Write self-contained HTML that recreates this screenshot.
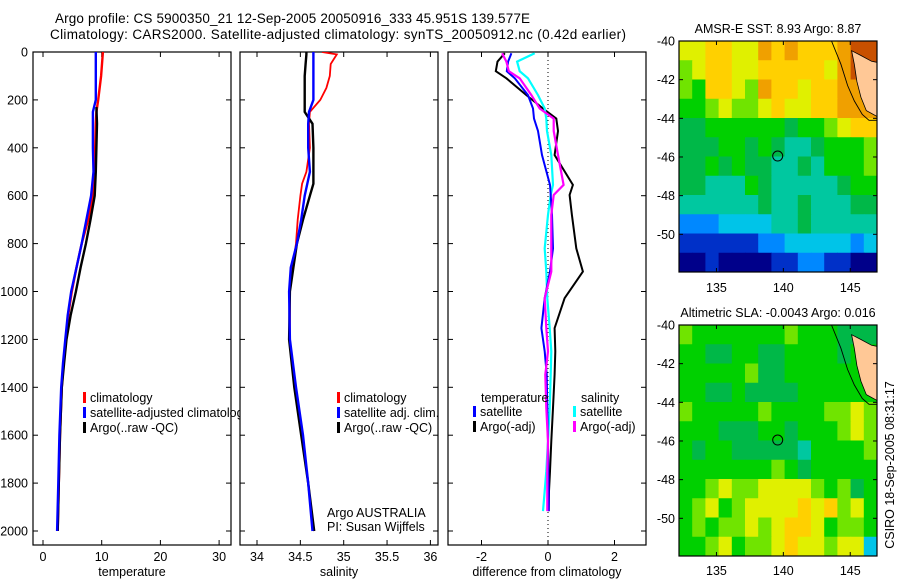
<!DOCTYPE html>
<html><head><meta charset="utf-8"><style>
html,body{margin:0;padding:0;background:#fff;}
svg{display:block;font-family:"Liberation Sans",sans-serif;}
</style></head><body>
<svg id="fig" width="900" height="580" viewBox="0 0 900 580" xmlns="http://www.w3.org/2000/svg">
<defs>
<clipPath id="clipA"><rect x="679" y="41" width="198" height="231"/></clipPath>
<clipPath id="clipB"><rect x="679" y="325" width="198" height="231"/></clipPath>
<clipPath id="clipP1"><rect x="33" y="52" width="198" height="493"/></clipPath>
<clipPath id="clipP2"><rect x="240" y="52" width="198" height="493"/></clipPath>
<clipPath id="clipP3"><rect x="448" y="52" width="198" height="493"/></clipPath>
</defs>
<text x="55" y="23" font-size="13.5" textLength="475">Argo profile: CS 5900350_21 12-Sep-2005 20050916_333 45.951S 139.577E</text>
<text x="50" y="39" font-size="13.5" textLength="576">Climatology: CARS2000. Satellite-adjusted climatology: synTS_20050912.nc (0.42d earlier)</text>
<g id="root"></g>
</svg>
<script>
// ---------- profile data ----------
const depthT = [0,100,200,250,300,400,500,600,700,800,900,1000,1100,1200,1300,1400,1600,1800,2000];
const tempClim = [10.2,9.9,9.4,9.1,9.0,8.9,8.9,8.5,7.7,6.6,5.7,4.9,4.3,3.9,3.5,3.2,2.9,2.7,2.5];
const tempSat  = [9.0,9.0,9.0,8.5,8.5,8.5,8.6,8.2,7.4,6.6,5.7,4.8,4.2,3.8,3.4,3.1,2.8,2.6,2.4];
const depthArgoT = [230,300,400,500,600,700,800,900,1000,1100,1200,1300,1400,1600,1800,2000];
const tempArgo = [9.1,9.2,9.1,9.0,8.8,8.1,7.3,6.4,5.6,4.7,4.0,3.6,3.2,2.9,2.7,2.5];

const depthS = [0,10,50,100,150,200,250,300,400,500,550,600,700,800,900,1000,1200,1400,1600,1800,2000];
const salClim = [34.75,34.92,34.85,34.84,34.80,34.73,34.61,34.60,34.61,34.57,34.52,34.50,34.47,34.45,34.41,34.38,34.38,34.44,34.52,34.59,34.66];
const salSat  = [34.65,34.65,34.65,34.65,34.65,34.65,34.60,34.59,34.59,34.61,34.58,34.55,34.51,34.46,34.39,34.37,34.38,34.45,34.53,34.59,34.64];
const salArgo = [34.57,34.57,34.56,34.55,34.55,34.55,34.55,34.64,34.65,34.65,34.65,34.61,34.53,34.46,34.42,34.38,34.37,34.43,34.51,34.59,34.66];

const depthD = [5,40,80,110,180,236,278,330,430,555,597,680,820,917,1028,1153,1250,1347,1486,1625,1750,1833,1917];
const diffTsat  = [-1.1,-1.2,-1.24,-1.0,-0.6,-0.45,-0.42,-0.3,-0.18,0.06,0.08,0.12,0.15,0.06,-0.1,-0.2,-0.1,-0.04,-0.02,0.0,0.01,0.02,0.02];
const diffTargo = [-1.3,-1.52,-1.57,-1.25,-0.65,-0.15,0.25,0.3,0.2,0.75,0.65,0.72,0.85,1.05,0.5,0.2,0.22,0.2,0.15,0.1,0.06,0.03,0.02];
const diffSsat  = [-0.4,-0.93,-0.85,-0.6,-0.3,-0.1,-0.05,-0.03,0.1,0.15,0.08,0.0,-0.1,-0.05,-0.02,0.05,0.1,0.08,0.05,0.0,-0.05,-0.1,-0.15];
const diffSargo = [-1.38,-1.25,-1.18,-0.85,-0.5,-0.25,0.17,0.17,0.3,0.47,0.17,0.1,0.1,0.1,-0.1,-0.05,0.0,-0.08,-0.05,0.0,-0.02,-0.02,-0.02];

const depthTicks = [0,200,400,600,800,1000,1200,1400,1600,1800,2000];
const tempTicks = [0,10,20,30];
const salTicks = [34,34.5,35,35.5,36];
const salTickLabels = ["34","34.5","35","35.5","36"];
const diffTicks = [-2,0,2];
const lonTicks = [135,140,145];
const latTicks = [-40,-42,-44,-46,-48,-50];

// ---------- map data ----------
const palette = {"0":"#00008a","1":"#0030c8","2":"#0088ff","3":"#00c4e8","4":"#00c8a0","5":"#00b848","6":"#00d000","7":"#70e400","8":"#e0f000","9":"#ffd000","a":"#f0a000","b":"#c85000"};
const sstGrid = [
"889988a9a999abb",
"789988999998abb",
"769987a99899aab",
"667877898899aaa",
"556666665667899",
"555665654456667",
"556565544546667",
"554446544444566",
"444444544544455",
"222333344544444",
"111111223333323",
"001000011221100"];
const slaGrid = [
"766666667666555",
"665566556666566",
"666667556666666",
"665565555666666",
"766666766667787",
"666555665666787",
"656655555466667",
"666666676566666",
"667877888876756",
"678678888989786",
"676778789986776",
"667867789887883"];

const NS = "http://www.w3.org/2000/svg";
const root = document.getElementById('root');
function el(tag, attrs, parent){ const e=document.createElementNS(NS,tag); for(const k in attrs) e.setAttribute(k,attrs[k]); (parent||root).appendChild(e); return e; }
function txt(x,y,s,size,anchor,parent){ const t=el('text',{x:x,y:y,'font-size':size,'text-anchor':anchor||'start'},parent); t.textContent=s; return t; }

const Y0=52, Y1=545;
const yD = z => 52 + 0.2395*z;

function panel(name, x0, xScale, ticks, labels, xlabel, clip){
  const g = el('g',{});
  
  
  el('rect',{x:x0,y:Y0,width:198,height:Y1-Y0,fill:'#fff',stroke:'none'},g);
  const frame = el('rect',{x:x0,y:Y0,width:198,height:Y1-Y0,fill:'none',stroke:'#000','stroke-width':1.2},g);
  
  
  ticks.forEach((v,i)=>{
    const x = xScale(v);
    el('line',{x1:x,x2:x,y1:Y1,y2:Y1-5,stroke:'#000'},g);
    el('line',{x1:x,x2:x,y1:Y0,y2:Y0+5,stroke:'#000'},g);
    const t = txt(x, Y1+16, labels[i], 12.5, 'middle', g);
    
    
  });
  depthTicks.forEach(z=>{
    el('line',{x1:x0,x2:x0+5,y1:yD(z),y2:yD(z),stroke:'#000'},g);
    el('line',{x1:x0+198,x2:x0+193,y1:yD(z),y2:yD(z),stroke:'#000'},g);
  });
  const xl = txt(x0+99, 576, xlabel, 12.5, 'middle', g);
  
  
  return el('g',{'clip-path':'url(#'+clip+')'},g);
}
function series(parent, xs, zs, xScale, color, name, w){
  const pts = xs.map((v,i)=>xScale(v).toFixed(1)+','+yD(zs[i]).toFixed(1)).join(' ');
  const p = el('polyline',{points:pts,fill:'none',stroke:color,'stroke-width':w||2.4,'stroke-linejoin':'miter'},parent);
  
  
}
function legend(parent, x, y, color, label){
  const m = el('rect',{x:x,y:y-6,width:3,height:11,fill:color},parent);
  
  
  const t = txt(x+7, y+4, label, 12.5, 'start', parent);
  
  
}

depthTicks.forEach(z=>{
  const t = txt(28, yD(z)+4.5, String(z), 12.5, 'end');
  
  
});

const xT = v => 43 + 5.87*v;
const p1 = panel('temperature-panel', 33, xT, tempTicks, tempTicks.map(String), 'temperature', 'clipP1');
series(p1, tempClim, depthT, xT, '#ff0000', 'temp-climatology-line');
series(p1, tempArgo, depthArgoT, xT, '#000000', 'temp-argo-line');
series(p1, tempSat, depthT, xT, '#0000ff', 'temp-satellite-line');
legend(root, 83, 398, '#ff0000', 'climatology');
legend(root, 83, 413, '#0000ff', 'satellite-adjusted climatology');
legend(root, 83, 428, '#000000', 'Argo(..raw -QC)');

const xS = v => 257 + 86.7*(v-34);
const p2 = panel('salinity-panel', 240, xS, salTicks, salTickLabels, 'salinity', 'clipP2');
series(p2, salClim, depthS, xS, '#ff0000', 'sal-climatology-line', 1.8);
series(p2, salArgo, depthS, xS, '#000000', 'sal-argo-line');
series(p2, salSat, depthS, xS, '#0000ff', 'sal-satellite-line');
legend(root, 337, 398, '#ff0000', 'climatology');
legend(root, 337, 413, '#0000ff', 'satellite adj. clim.');
legend(root, 337, 428, '#000000', 'Argo(..raw -QC)');
let t1 = txt(327, 517, 'Argo AUSTRALIA', 12.5);  
let t2 = txt(327, 531, 'PI: Susan Wijffels', 12.5);  

const xDf = v => 548 + 33.25*v;
const p3 = panel('difference-panel', 448, xDf, diffTicks, diffTicks.map(String), 'difference from climatology', 'clipP3');
const zl = el('line',{x1:xDf(0),x2:xDf(0),y1:Y0,y2:Y1,stroke:'#000','stroke-dasharray':'1,3'},p3);
 
series(p3, diffTargo, depthD, xDf, '#000000', 'diff-temp-argo-line', 2);
series(p3, diffSsat, depthD, xDf, '#00ffff', 'diff-sal-satellite-line', 2.2);
series(p3, diffTsat, depthD, xDf, '#0000ff', 'diff-temp-satellite-line', 2);
series(p3, diffSargo, depthD, xDf, '#ff00ff', 'diff-sal-argo-line', 2.2);
let lt = txt(481, 402, 'temperature', 12.5);  
let ls = txt(581, 402, 'salinity', 12.5);  
legend(root, 473, 412, '#0000ff', 'satellite');
legend(root, 473, 427, '#000000', 'Argo(-adj)');
legend(root, 573, 412, '#00ffff', 'satellite');
legend(root, 573, 427, '#ff00ff', 'Argo(-adj)');

const lonMin=132.2, lonMax=147, latMax=-40, latMin=-51.95;
function map(name, top, grid, clip, title, tickY){
  const g = el('g',{});
  
  
  const lx = lon => 679 + (lon-lonMin)/(lonMax-lonMin)*198;
  const ly = lat => top + (latMax-lat)/(latMax-latMin)*231;
  const cg = el('g',{'clip-path':'url(#'+clip+')'},g);
  const cols=15, rows=12, cw=198/cols, ch=231/rows;
  grid.forEach((row,r)=>{
    for(let c=0;c<cols;c++){
      const k=row[c];
      el('rect',{x:679+c*cw,y:top+r*ch,width:cw+0.6,height:ch+0.6,fill:palette[k]||'#00d000'},cg);
    }
  });
  const land = el('polygon',{points:[[145.1,-40.5],[145.8,-40.75],[146.6,-41.05],[147,-41.1],[147,-43.9],[146.2,-43.6],[145.8,-42.9],[145.5,-42.1],[145.3,-41.2]].map(p=>lx(p[0]).toFixed(1)+','+ly(p[1]).toFixed(1)).join(' '),fill:'#ffc896',stroke:'#000','stroke-width':0.8},cg);
   
  el('polyline',{points:[[143.6,-40],[144.3,-41.2],[144.8,-42.3],[145.3,-43.1],[145.9,-43.8],[146.4,-44.1],[147,-44.1]].map(p=>lx(p[0]).toFixed(1)+','+ly(p[1]).toFixed(1)).join(' '),fill:'none',stroke:'#000','stroke-width':0.9},cg);
  const circ = el('circle',{cx:lx(139.577),cy:ly(-45.951),r:5,fill:'none',stroke:'#000','stroke-width':1},g);
   
  el('rect',{x:679,y:top,width:198,height:231,fill:'none',stroke:'#000','stroke-width':1.2},g);
  lonTicks.forEach(v=>{
    const x=lx(v);
    el('line',{x1:x,x2:x,y1:top,y2:top+4,stroke:'#000'},g);
    el('line',{x1:x,x2:x,y1:top+231,y2:top+227,stroke:'#000'},g);
    const t=txt(x,tickY,String(v),12.5,'middle',g);
     
  });
  latTicks.forEach(v=>{
    const y=ly(v);
    el('line',{x1:679,x2:683,y1:y,y2:y,stroke:'#000'},g);
    el('line',{x1:877,x2:873,y1:y,y2:y,stroke:'#000'},g);
    const t=txt(675,y+4.5,String(v),12.5,'end',g);
     
  });
  const tt=txt(778,top-8,title,12.5,'middle',g);
   
}
map('sst-map', 41, sstGrid, 'clipA', 'AMSR-E SST: 8.93 Argo: 8.87', 292);
map('sla-map', 325, slaGrid, 'clipB', 'Altimetric SLA: -0.0043 Argo: 0.016', 575);
const stamp = txt(0,0,'CSIRO 18-Sep-2005 08:31:17',12.5,'middle');
stamp.setAttribute('transform','translate(894,465) rotate(-90)');


</script>
</body></html>
